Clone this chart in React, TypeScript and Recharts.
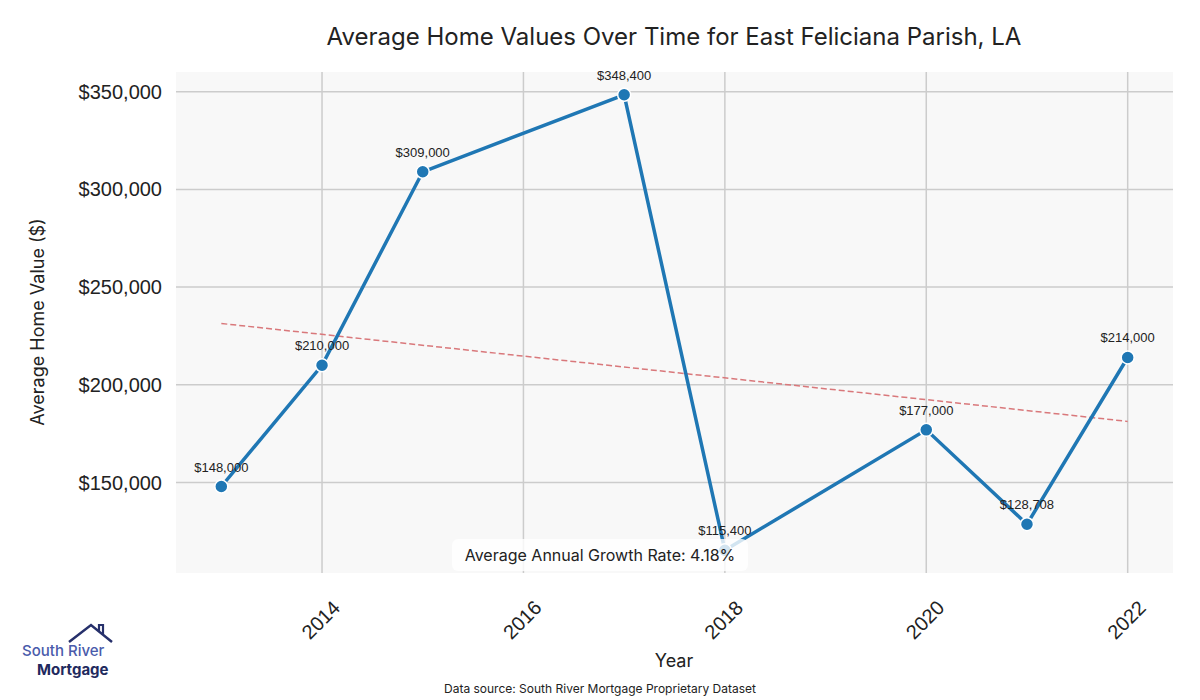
import React from "react";
import {
  LineChart,
  Line,
  XAxis,
  YAxis,
  CartesianGrid,
  LabelList,
} from "recharts";

const years = [2013, 2014, 2015, 2017, 2018, 2020, 2021, 2022];
const homeValues = [148000, 210000, 309000, 348400, 115400, 177000, 128708, 214000];
// dashed trend line at first and last year
const trendYears = [2013, 2022];
const trendValues = [231400, 181300];
const xTicks = [2014, 2016, 2018, 2020, 2022];
const yTicks = [150000, 200000, 250000, 300000, 350000];

const data = years.map((year, i) => {
  const t = trendYears.indexOf(year);
  return { year, value: homeValues[i], trend: t >= 0 ? trendValues[t] : null };
});

const money = (v: number) => "$" + v.toLocaleString("en-US");

const XTick = (props: any) => {
  const { x, y, payload } = props;
  return (
    <text
      x={x}
      y={y + 40}
      transform={`rotate(-45 ${x} ${y + 40})`}
      textAnchor="middle"
      dominantBaseline="middle"
      fontSize={20}
      fontFamily="Liberation Sans, Arial, sans-serif"
      fill="#222"
    >
      {payload.value}
    </text>
  );
};

export default function App() {
  return (
    <div style={{ position: "absolute", left: 0, top: 0, width: 1200, height: 700, background: "#fff" }}>
      <LineChart
        width={1200}
        height={700}
        data={data}
        margin={{ top: 72, right: 27, bottom: 27, left: 0 }}
      >
        <CartesianGrid
          fill="#f8f8f8"
          stroke="#cccccc"
          strokeWidth={1.5}
          horizontalValues={yTicks}
          verticalValues={xTicks}
        />
        <XAxis
          dataKey="year"
          type="number"
          domain={[2012.55, 2022.45]}
          ticks={xTicks}
          height={100}
          axisLine={false}
          tickLine={false}
          tick={<XTick />}
        />
        <YAxis
          type="number"
          domain={[103750, 360050]}
          ticks={yTicks}
          width={176}
          axisLine={false}
          tickLine={false}
          tickFormatter={money}
          tick={{ fontSize: 20, fill: "#222", fontFamily: "Liberation Sans, Arial, sans-serif" }}
          tickMargin={8}
        />
        <Line
          dataKey="trend"
          stroke="#d9787b"
          strokeWidth={1.5}
          strokeDasharray="6 3"
          dot={false}
          connectNulls
          isAnimationActive={false}
        />
        <Line
          dataKey="value"
          stroke="#1f77b4"
          strokeWidth={3.5}
          dot={{ r: 6.5, fill: "#1f77b4", stroke: "#fff", strokeWidth: 1.5 }}
          isAnimationActive={false}
        >
          <LabelList
            dataKey="value"
            position="top"
            offset={15}
            formatter={(v: any) => money(v)}
            style={{ fontSize: 13, fill: "#222", fontFamily: "Liberation Sans, Arial, sans-serif" }}
          />
        </Line>
      </LineChart>

      <div style={{ position: "absolute", left: 0, width: 1348, top: 22, textAlign: "center", fontFamily: "Inter, sans-serif", fontSize: 24, color: "#222" }}>
        Average Home Values Over Time for East Feliciana Parish, LA
      </div>
      <div
        style={{
          position: "absolute",
          left: 37,
          top: 322,
          transform: "translate(-50%, -50%) rotate(-90deg)",
          whiteSpace: "nowrap",
          fontFamily: "Inter, sans-serif",
          fontSize: 18,
          color: "#222",
        }}
      >
        Average Home Value ($)
      </div>
      <div style={{ position: "absolute", left: 0, width: 1348, top: 650, textAlign: "center", fontFamily: "Inter, sans-serif", fontSize: 18, color: "#222" }}>
        Year
      </div>
      <div
        style={{
          position: "absolute",
          left: 452,
          top: 539,
          width: 296,
          height: 32,
          lineHeight: "32px",
          background: "rgba(255,255,255,0.8)",
          borderRadius: 6,
          textAlign: "center",
          fontFamily: "Inter, sans-serif",
          fontSize: 16,
          color: "#222",
        }}
      >
        Average Annual Growth Rate: 4.18%
      </div>
      <div style={{ position: "absolute", left: 0, width: 1200, top: 681, textAlign: "center", fontFamily: "Inter, sans-serif", fontSize: 12, color: "#222" }}>
        Data source: South River Mortgage Proprietary Dataset
      </div>
      <svg style={{ position: "absolute", left: 60, top: 618 }} width={60} height={32}>
        <polyline points="9,24 31,7 52,24" fill="none" stroke="#26306b" strokeWidth={2.5} />
        <polyline points="39,13 39,7 43,7 43,16" fill="none" stroke="#26306b" strokeWidth={2.2} />
      </svg>
      <div style={{ position: "absolute", left: 22, top: 642, fontFamily: "Inter, sans-serif", fontSize: 15, lineHeight: "17px", color: "#4a5bab", fontWeight: 500 }}>
        South River
      </div>
      <div style={{ position: "absolute", left: 37, top: 661, fontFamily: "Inter, sans-serif", fontSize: 15, lineHeight: "17px", color: "#1f2a5e", fontWeight: 700 }}>
        Mortgage
      </div>
    </div>
  );
}
